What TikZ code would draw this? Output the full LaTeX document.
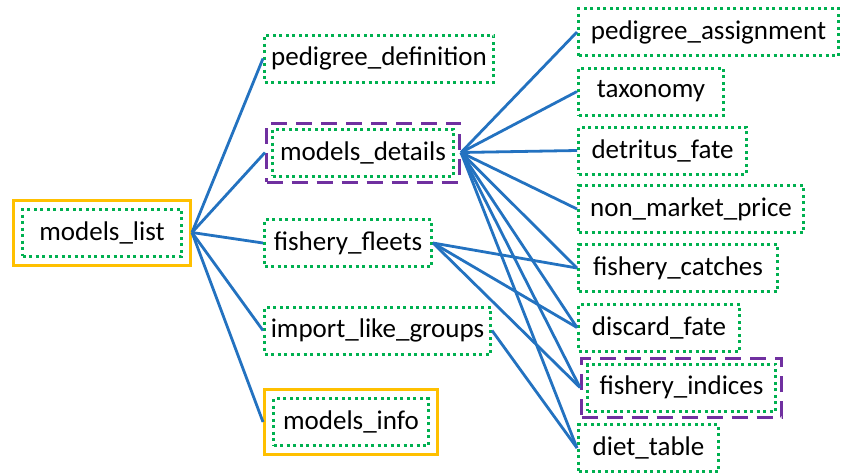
\documentclass[tikz,border=0pt]{standalone}
\usepackage{fontspec}
\setmainfont{Carlito}
\usetikzlibrary{fit}
\definecolor{gbox}{RGB}{0,176,80}
\definecolor{obox}{RGB}{255,192,0}
\definecolor{pbox}{RGB}{112,48,160}
\definecolor{edgeblue}{RGB}{35,114,192}
\tikzset{
  tbl/.style={draw=gbox, line width=3pt, dash pattern=on 3pt off 3.5pt,
    minimum height=47pt, inner sep=0pt, font=\fontsize{27}{30}\selectfont, text=black},
  oframe/.style={draw=obox, line width=3pt, inner sep=7.5pt},
  pframe/.style={draw=pbox, line width=3pt, dash pattern=on 16pt off 9pt, inner sep=4.5pt},
  link/.style={draw=edgeblue, line width=2.8pt}
}
\begin{document}
\begin{tikzpicture}[x=1pt,y=-1pt]
\useasboundingbox (0,0) rectangle (850,474);
% left
\node[tbl, minimum width=159pt] (mlist) at (102,232.5) {models\_list};
\node[oframe, fit=(mlist)] (mlistF) {};
% middle
\node[tbl, minimum width=229pt] (pdef) at (379,58.5) {pedigree\_definition};
\node[tbl, minimum width=181pt] (mdet) at (363,152.5) {models\_details};
\node[pframe, fit=(mdet)] (mdetF) {};
\node[tbl, minimum width=167pt] (ffleet) at (348,243) {fishery\_fleets};
\node[tbl, minimum width=226pt] (ilg) at (377.5,330.5) {import\_like\_groups};
\node[tbl, minimum width=155pt] (minfo) at (351,422) {models\_info};
\node[oframe, fit=(minfo)] (minfoF) {};
% right
\node[tbl, minimum width=260pt] (pass) at (708.5,32) {pedigree\_assignment};
\node[tbl, minimum width=145pt] (tax) at (651,91.5) {taxonomy};
\node[tbl, minimum width=168pt] (dfate) at (662.5,150.5) {detritus\_fate};
\node[tbl, minimum width=225pt] (nmp) at (691,209) {non\_market\_price};
\node[tbl, minimum width=199pt] (fcat) at (678,268) {fishery\_catches};
\node[tbl, minimum width=161pt] (disc) at (659,327.5) {discard\_fate};
\node[tbl, minimum width=188pt] (find) at (681.5,387.5) {fishery\_indices};
\node[pframe, fit=(find)] (findF) {};
\node[tbl, minimum width=140pt] (diet) at (648.5,448) {diet\_table};
% connectors
\foreach \t in {pdef,mdetF,ffleet,ilg,minfoF}
  \draw[link] (mlistF.east) -- (\t.west);
\foreach \t in {pass,tax,dfate,nmp,fcat,disc,findF,diet}
  \draw[link] (mdetF.east) -- (\t.west);
\foreach \t in {fcat,disc,findF}
  \draw[link] (ffleet.east) -- (\t.west);
\draw[link] (ilg.east) -- (diet.west);
\end{tikzpicture}
\end{document}
